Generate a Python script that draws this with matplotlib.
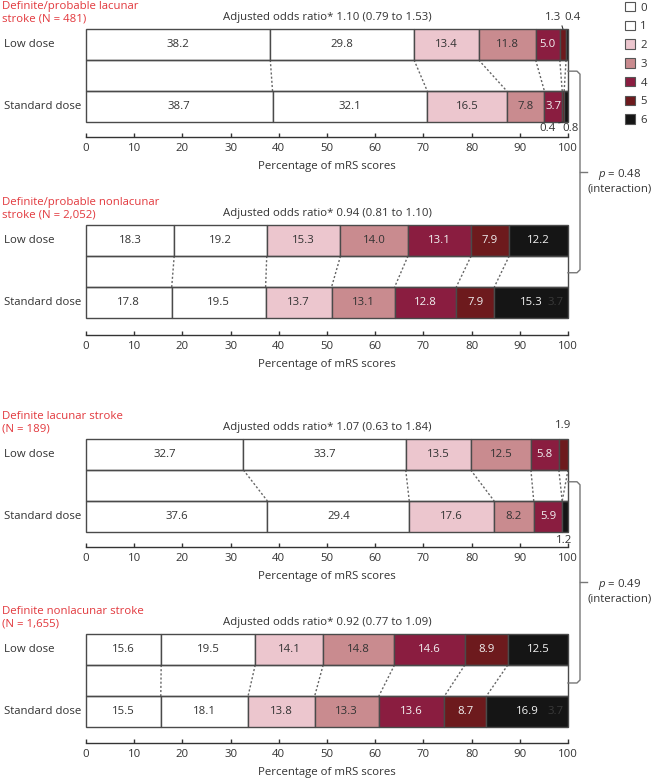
"""
mRS score distribution by stroke subtype, low vs standard dose
"""
import numpy as np
import matplotlib.pyplot as plt
from matplotlib.lines import Line2D
from matplotlib.patches import Patch, Rectangle

plt.rcParams['font.family'] = ['Open Sans', 'DejaVu Sans']
plt.rcParams['mathtext.fontset'] = 'custom'
plt.rcParams['mathtext.rm'] = 'Open Sans'
plt.rcParams['mathtext.it'] = 'Open Sans:italic'

scores = ['0', '1', '2', '3', '4', '5', '6']
colors = ['#ffffff', '#ffffff', '#ecc6ce', '#c98b8f', '#8a1d40', '#6d1a1d', '#151515']
text_colors = ['#333333'] * 4 + ['#f2f2f2'] * 3
groups = ['Low dose', 'Standard dose']

titles = ['Definite/probable lacunar\nstroke (N = 481)',
          'Definite/probable nonlacunar\nstroke (N = 2,052)',
          'Definite lacunar stroke\n(N = 189)',
          'Definite nonlacunar stroke\n(N = 1,655)']
odds = ['1.10 (0.79 to 1.53)', '0.94 (0.81 to 1.10)',
        '1.07 (0.63 to 1.84)', '0.92 (0.77 to 1.09)']
p_values = ['0.48', '0.49']

lac_prob_low = [38.2, 29.8, 13.4, 11.8, 5.0, 1.3, 0.4]
lac_prob_std = [38.7, 32.1, 16.5, 7.8, 3.7, 0.4, 0.8]
nonlac_prob_low = [18.3, 19.2, 15.3, 14.0, 13.1, 7.9, 12.2]
nonlac_prob_std = [17.8, 19.5, 13.7, 13.1, 12.8, 7.9, 15.3]
lac_def_low = [32.7, 33.7, 13.5, 12.5, 5.8, 1.9, 0.0]
lac_def_std = [37.6, 29.4, 17.6, 8.2, 5.9, 0.0, 1.2]
nonlac_def_low = [15.6, 19.5, 14.1, 14.8, 14.6, 8.9, 12.5]
nonlac_def_std = [15.5, 18.1, 13.8, 13.3, 13.6, 8.7, 16.9]

panels = [(lac_prob_low, lac_prob_std), (nonlac_prob_low, nonlac_prob_std),
          (lac_def_low, lac_def_std), (nonlac_def_low, nonlac_def_std)]

# labels of the thin segments: (panel, row, segment, text x, text y, leader)
outside = [(0, 1, 5, 96.9, 1.435, (1, 0)), (0, 1, 6, 100.9, 1.435, None),
           (0, 0, 5, 95.8, -0.36, (1, 1)), (0, 0, 6, 100.5, -0.36, None),
           (2, 1, 5, 98.9, 1.46, None), (2, 0, 6, 99.2, -0.38, None)]

EDGE = '#4a4a4a'
RED = '#e2383d'
FS = 8.2

fig = plt.figure(figsize=(6.54, 7.81), dpi=100)
W, H = 654, 781
tops = [29, 225, 439, 634]
outs = [15, 17, 15, 16]
axes = []
for top in tops:
    axes.append(fig.add_axes([86 / W, 1 - (top + 93) / H, 482 / W, 93 / H]))


def draw_panel(ax, idx, low, std):
    rows = {1: low, 0: std}
    for y, vals in rows.items():
        scale = 100 / sum(vals)
        left = 0
        for k, v in enumerate(vals):
            w = v * scale
            if v > 0:
                ax.barh(y, w, left=left, height=0.5, color=colors[k],
                        edgecolor=EDGE, linewidth=1, clip_on=False, zorder=2)
            if v >= 3:
                ax.text(left + w / 2, y, f'{v:.1f}', ha='center', va='center',
                        color=text_colors[k], fontsize=FS, zorder=3)
            left += w
    ax.add_patch(Rectangle((0, 0.25), 100, 0.5, fill=False, edgecolor=EDGE,
                           linewidth=1, clip_on=False, zorder=2))
    cl = np.cumsum(low) * 100 / sum(low)
    cs = np.cumsum(std) * 100 / sum(std)
    for i in range(6):
        ax.plot([cl[i], cs[i]], [0.75, 0.25], color='#666666', lw=1,
                ls=(0, (1.5, 1.5)), clip_on=False, zorder=1)
    if idx in (1, 3):
        ax.text(97.5, 0, '3.7', ha='center', va='center', color='#3a3a3a',
                fontsize=FS, zorder=3)

    for gi, y in zip(groups, [1, 0]):
        ax.text(-0.171, y, gi, transform=ax.get_yaxis_transform(), ha='left',
                va='center', fontsize=FS, color='#333333')
    ax.text(-0.174, 1.505, titles[idx], transform=ax.get_yaxis_transform(),
            ha='left', va='center', fontsize=FS, color=RED, linespacing=1.2)
    ax.text(50, 1.43, 'Adjusted odds ratio* ' + odds[idx], ha='center',
            va='center', fontsize=FS, color='#333333')

    for p, row, seg, tx, ty, rel in outside:
        if p != idx:
            continue
        vals = rows[row]
        c = np.cumsum(vals) * 100 / sum(vals)
        sx = c[seg] - vals[seg] * 50 / sum(vals)
        sy = 1.25 if row == 1 else -0.25
        props = None
        if rel is not None:
            props = dict(arrowstyle='-', color='#333333', lw=0.8,
                         shrinkA=0, shrinkB=0, relpos=rel)
        ax.annotate(f'{vals[seg]:.1f}', xy=(sx, sy), xytext=(tx, ty),
                    ha='center', va='center', fontsize=FS, color='#333333',
                    arrowprops=props, annotation_clip=False)

    ax.set_xlim(0, 100)
    ax.set_ylim(-0.25, 1.25)
    ax.set_yticks([])
    for s in ['left', 'right', 'top']:
        ax.spines[s].set_visible(False)
    ax.spines['bottom'].set_position(('outward', outs[idx] * 0.72))
    ax.spines['bottom'].set_color('#333333')
    ax.spines['bottom'].set_linewidth(1)
    ax.set_xticks(range(0, 101, 10))
    ax.tick_params(axis='x', direction='in', length=3, width=1, color='#333333',
                   labelsize=FS, labelcolor='#333333', pad=4)
    ax.set_xlabel('Percentage of mRS scores', fontsize=FS, color='#333333',
                  labelpad=5)
    ax.set_facecolor('none')


for i, (low, std) in enumerate(panels):
    draw_panel(axes[i], i, low, std)

handles = [Patch(facecolor=c, edgecolor='#555555', linewidth=0.8) for c in colors]
fig.legend(handles, scores, loc='upper left', bbox_to_anchor=(625 / W, 1 - 2 / H),
           frameon=False, fontsize=FS, handlelength=0.9, handleheight=0.9,
           handletextpad=0.45, labelspacing=0.62, borderpad=0, borderaxespad=0,
           labelcolor='#333333')

inv = fig.transFigure.inverted()


def bracket(ax_top, y_top, ax_bot, y_bot, p):
    x0, y0 = ax_top.transData.transform((100, y_top))
    _, y1 = ax_bot.transData.transform((100, y_bot))
    xb = x0 + 12
    r = 3
    ym = (y0 + y1) / 2
    pts = [(x0, y0), (xb - r, y0), (xb, y0 - r), (xb, y1 + r), (xb - r, y1), (x0, y1)]
    xy = inv.transform(pts)
    fig.add_artist(Line2D(xy[:, 0], xy[:, 1], color='#777777', lw=1))
    tk = inv.transform([(xb, ym), (xb + 7, ym)])
    fig.add_artist(Line2D(tk[:, 0], tk[:, 1], color='#777777', lw=1))
    tx, ty = inv.transform((x0 + 52, ym - 8.5))
    fig.text(tx, ty, f'$p$ = {p}\n(interaction)', ha='center', va='center',
             fontsize=FS, color='#333333', linespacing=1.15)


bracket(axes[0], 0.57, axes[1], 0.48, p_values[0])
bracket(axes[2], 0.56, axes[3], 0.46, p_values[1])

fig.savefig('out.png', dpi=100)
